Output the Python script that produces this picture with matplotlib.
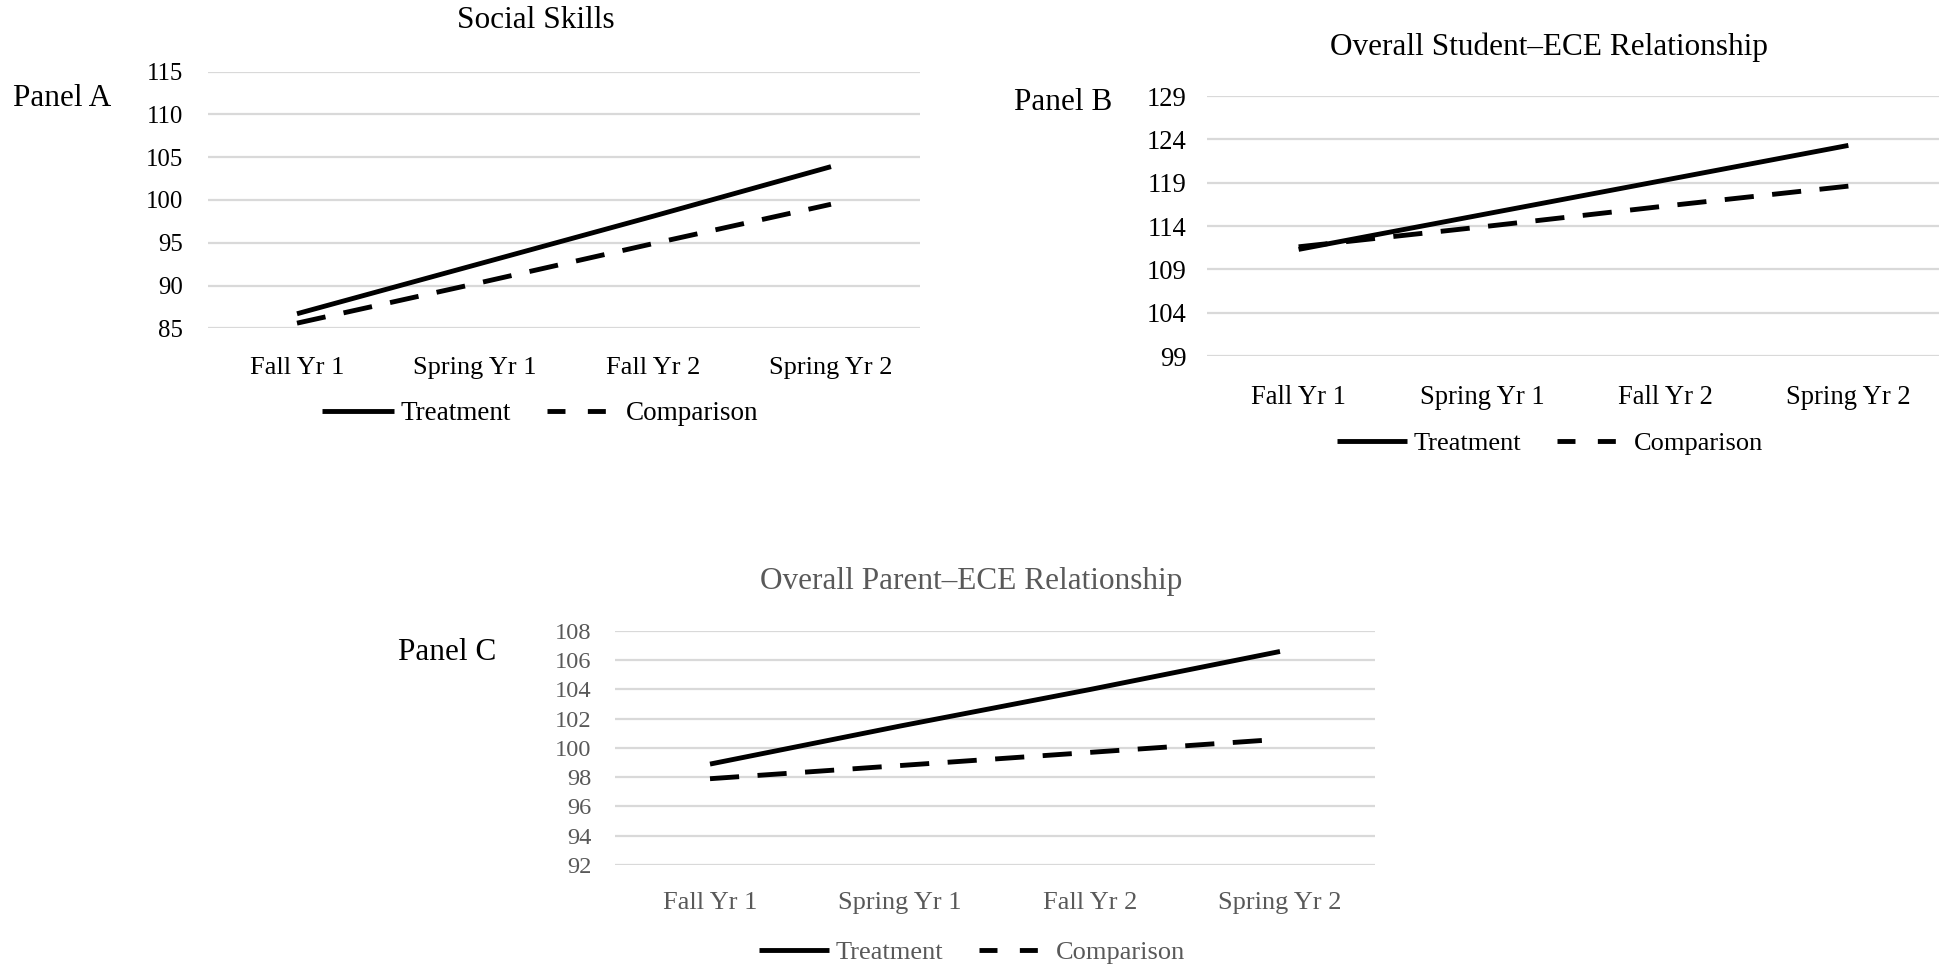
import matplotlib
matplotlib.use("Agg")
import matplotlib.pyplot as plt
from matplotlib.lines import Line2D

plt.rcParams['font.family'] = ['Liberation Serif', 'DejaVu Serif']

periods = ["Fall Yr 1", "Spring Yr 1", "Fall Yr 2", "Spring Yr 2"]

a_title = "Social Skills"
a_treatment = [86.7, 92.4, 98.1, 103.9]
a_comparison = [85.6, 90.2, 94.9, 99.5]
a_ticks = [85, 90, 95, 100, 105, 110, 115]

b_title = "Overall Student\u2013ECE Relationship"
b_treatment = [111.3, 115.3, 119.3, 123.3]
b_comparison = [111.6, 113.9, 116.3, 118.6]
b_ticks = [99, 104, 109, 114, 119, 124, 129]

c_title = "Overall Parent\u2013ECE Relationship"
c_treatment = [98.9, 101.5, 104.0, 106.6]
c_comparison = [97.9, 98.8, 99.7, 100.6]
c_ticks = [92, 94, 96, 98, 100, 102, 104, 106, 108]

W, H = 1940, 968
fig = plt.figure(figsize=(W / 100, H / 100), dpi=100)

LW = 3.5
DASH = (6.0, 3.8)
GRID = '#d9d9d9'


def fx(px):
    return px / W


def fy(py):
    return 1 - py / H


def make_panel(rect, treat, comp, ticks, title, title_xy, label, label_xy,
               tick_fs, xtick_fs, leg_fs, leg_xy, color, ypad, xpad):
    x0, x1, ytop, ybot = rect
    ax = fig.add_axes([fx(x0), fy(ybot), fx(x1 - x0), (ybot - ytop) / H])
    xs = list(range(len(periods)))
    ax.plot(xs, treat, color='black', lw=LW, solid_capstyle='butt', zorder=3)
    ax.plot(xs, comp, color='black', lw=LW, linestyle=(0, DASH),
            dash_capstyle='butt', zorder=4)
    ax.set_xlim(-0.5, 3.5)
    ax.set_ylim(ticks[0], ticks[-1])
    ax.set_yticks(ticks)
    ax.set_xticks(xs)
    ax.set_xticklabels(periods)
    ax.grid(axis='y', color=GRID, lw=1.6, zorder=0)
    ax.set_axisbelow(True)
    for s in ax.spines.values():
        s.set_visible(False)
    ax.tick_params(axis='both', length=0)
    ax.tick_params(axis='y', pad=ypad, labelsize=tick_fs, labelcolor=color)
    ax.tick_params(axis='x', pad=xpad, labelsize=xtick_fs, labelcolor=color)
    ax.patch.set_alpha(0)
    fig.text(fx(title_xy[0]), fy(title_xy[1]), title, ha='center', va='center',
             fontsize=22.5, color=color)
    fig.text(fx(label_xy[0]), fy(label_xy[1]), label, ha='left', va='center',
             fontsize=22.5, color='black')
    handles = [
        Line2D([], [], color='black', lw=LW, solid_capstyle='butt'),
        Line2D([], [], color='black', lw=LW, linestyle=(0, (3.7, 4.6)),
               dash_capstyle='butt'),
    ]
    leg = fig.legend(handles, ["Treatment", "Comparison"], loc='center',
                     bbox_to_anchor=(fx(leg_xy[0]), fy(leg_xy[1])), ncol=2,
                     frameon=False, fontsize=leg_fs, handlelength=2.65,
                     handletextpad=0.25, columnspacing=1.35, borderpad=0,
                     borderaxespad=0)
    for t in leg.get_texts():
        t.set_color(color)
    return ax


make_panel((208, 920, 71.7, 328.3), a_treatment, a_comparison, a_ticks,
           a_title, (536, 20), "Panel A", (13, 98),
           17.8, 19.0, 19.5, (540, 414), 'black', 18, 21)

make_panel((1207, 1940, 96, 356), b_treatment, b_comparison, b_ticks,
           b_title, (1549, 47), "Panel B", (1014, 103),
           19.2, 19.2, 19.0, (1550, 443), 'black', 15, 21)

make_panel((615, 1375, 631, 865), c_treatment, c_comparison, c_ticks,
           c_title, (971, 582), "Panel C", (398, 653),
           17.6, 19.0, 19.0, (972, 952), '#595959', 17, 19.5)

fig.savefig("out.png", dpi=100)
